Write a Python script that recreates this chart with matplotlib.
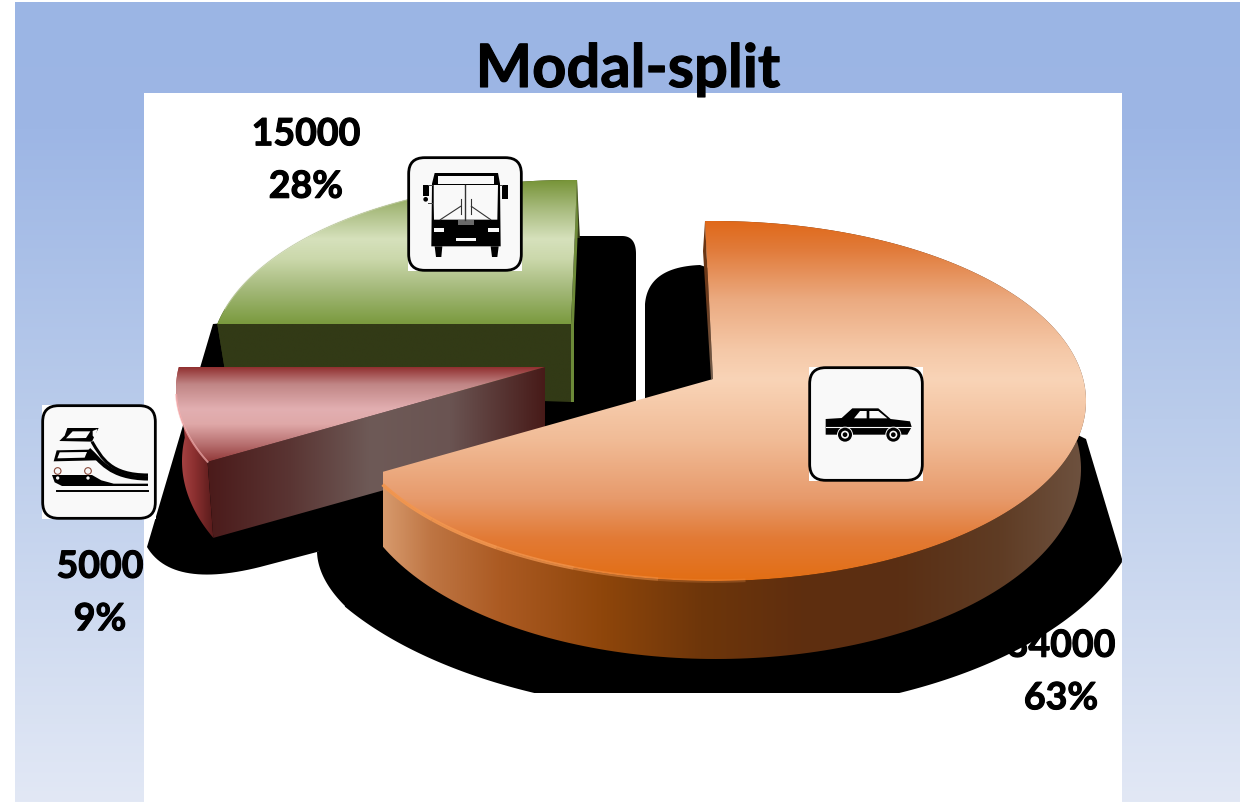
import numpy as np
import matplotlib
matplotlib.use('Agg')
import matplotlib.pyplot as plt
import matplotlib.patheffects as pe
from matplotlib.colors import to_rgb
from matplotlib.patches import Polygon, Rectangle, FancyBboxPatch, Circle, PathPatch
from matplotlib.path import Path
from matplotlib.transforms import Affine2D

plt.rcParams['font.family'] = ['Lato', 'DejaVu Sans']

title = 'Modal-split'
modes = ['Car', 'Train', 'Bus']
values = [34000, 5000, 15000]

# where the slice edges end up on screen, clockwise from straight up (degrees)
edge_screen_angles = [-2.9, 254.3, 270, 362.4]

# one entry per slice: apex, ellipse centre drop below apex, half axes
apexes = [(713, 380), (545, 368), (571, 325)]
drops = [22, 22, 36]
half_a = [373, 369, 361]
half_b = [180, 180, 180]
corner_trim = [3.5, 0, 0]
depths = [68, 72, 68]
low_shrink = [8, 3, 8]
label_pos = [(1061, 673), (100, 594), (306, 161.5)]

top_stops = [
    [(222, '#e0691a'), (250, '#e17b3a'), (300, '#ebaa80'), (350, '#f5c8a7'), (380, '#f9d4b7'),
     (440, '#f1bc97'), (500, '#e79a6b'), (540, '#e27a35'), (582, '#e36e14')],
    [(367, '#8e2b2b'), (385, '#c08585'), (410, '#e2afb1'), (425, '#dfa8a8'), (445, '#b87070'), (462, '#923a3a')],
    [(181, '#779438'), (210, '#a8bb7e'), (240, '#d6e1bc'), (260, '#cbd8ab'), (290, '#a4b97a'), (325, '#7a9a3e')],
]
side_stops = [
    [(380, '#d89b6e'), (430, '#be7543'), (500, '#ab5a22'), (600, '#8f460b'), (700, '#6e360a'),
     (800, '#5f2e0f'), (900, '#5a2f14'), (1000, '#5f3c24'), (1085, '#6e5240')],
    [(176, '#b04a4a'), (195, '#8a2f2f'), (212, '#5a1c1c')],
    [(200, '#323a16'), (580, '#323a16')],
]
rim_colors = ['#f2964f', '#f7b0b0', '#e3ebcf']

fig = plt.figure(figsize=(12.49, 8.03), dpi=100)
ax = fig.add_axes([0, 0, 1, 1])
ax.set_xlim(0, 1249)
ax.set_ylim(803, 0)
ax.autoscale(False)
ax.axis('off')


def grad_fill(xy, stops, horizontal=False, zorder=3):
    xy = np.array(xy)
    poly = Polygon(xy, closed=True, fc='none', ec='none')
    ax.add_patch(poly)
    x0, y0 = xy.min(axis=0)
    x1, y1 = xy.max(axis=0)
    pos = np.linspace(x0, x1, 300) if horizontal else np.linspace(y0, y1, 300)
    where = [s[0] for s in stops]
    cols = np.array([to_rgb(s[1]) for s in stops])
    rgb = np.stack([np.interp(pos, where, cols[:, i]) for i in range(3)], axis=1)
    img = rgb[None, :, :] if horizontal else rgb[:, None, :]
    im = ax.imshow(img, extent=(x0, x1, y1, y0), aspect='auto', zorder=zorder, interpolation='bilinear')
    im.set_clip_path(poly)


def ellipse_pts(c, a, b, t0, t1, n=200):
    t = np.radians(np.linspace(t0, t1, n))
    return np.column_stack([c[0] + a * np.sin(t), c[1] - b * np.cos(t)])


def ray_to_t(apex, c, a, b, phi):
    # follow the ray out of the apex until it meets the ellipse
    dx, dy = np.sin(np.radians(phi)), -np.cos(np.radians(phi))
    ex, ey = (apex[0] - c[0]) / a, (apex[1] - c[1]) / b
    fx, fy = dx / a, dy / b
    A, B, C = fx**2 + fy**2, 2 * (ex * fx + ey * fy), ex**2 + ey**2 - 1
    s = (-B + np.sqrt(B**2 - 4 * A * C)) / (2 * A)
    return np.degrees(np.arctan2(ex + s * fx, -(ey + s * fy)))


def bez(p0, p1, p2, n=30):
    u = np.linspace(0, 1, n)[:, None]
    return (1 - u)**2 * np.array(p0) + 2 * u * (1 - u) * np.array(p1) + u**2 * np.array(p2)


# slide background and white plot area
grad_fill([(15, 3), (1240, 3), (1240, 803), (15, 803)],
          [(3, '#9bb5e4'), (130, '#9db6e5'), (420, '#bacceb'), (803, '#e2e8f5')], zorder=0)
ax.add_patch(Rectangle((144, 94), 978, 709, fc='white', ec='none', zorder=1))

bolder = [pe.withStroke(linewidth=0.8, foreground='black')]
ax.text(628, 71, title, fontsize=43, fontweight='bold', ha='center', va='center', color='black', zorder=2,
        path_effects=bolder)
total = sum(values)
for v, p in zip(values, label_pos):
    ax.text(p[0], p[1], f'{v}\n{round(v / total * 100)}%', fontsize=27, fontweight='bold', ha='center',
            va='center', linespacing=1.66, color='black', zorder=2, path_effects=bolder)

# black shadow, cut off by the plot area
clip = Rectangle((144, 94), 978, 600, transform=ax.transData)
orange_sh = np.vstack([
    [(645, 400), (645, 305)],
    bez((645, 305), (648, 268), (700, 266)),
    [(800, 300), (1086, 440), (1122, 560)],
    ellipse_pts((720, 490), 425, 225, 109, 180),
    ellipse_pts((720, 490), 440, 225, 180, 238.5),
    bez((345, 607), (318, 580), (317, 553)),
])
red_sh = np.vstack([
    [(213, 325), (147, 548)],
    bez((147, 548), (172, 590), (260, 568)),
    [(317, 553), (545, 492), (636, 440), (636, 255)],
    bez((636, 255), (636, 237), (622, 237)),
    [(577, 237), (500, 300)],
])
for sh in [orange_sh, red_sh]:
    p = Polygon(sh, closed=True, fc='black', ec='none', zorder=3)
    ax.add_patch(p)
    p.set_clip_path(clip)

# slices from the values
edges = np.cumsum([0] + values) / total * 360
apex_depth = 78
order = [2, 1, 0]
for i in order:
    apex, a, b = apexes[i], half_a[i], half_b[i]
    c = (apex[0], apex[1] + drops[i])
    phi0, phi1 = np.interp(edges[i:i + 2], edges, edge_screen_angles)
    t0 = ray_to_t(apex, c, a, b, phi0)
    t1 = ray_to_t(apex, c, a, b, phi1)
    t1 = t0 + (t1 - t0) % 360
    z = 4 + 2 * (2 - i) if i != 0 else 10
    t1_top = t1 - corner_trim[i]
    top = ellipse_pts(c, a, b, t0, t1_top)
    c2 = (c[0] + 3, c[1] + depths[i])
    low = ellipse_pts(c2, a - low_shrink[i], b + 10, t0, t1)
    apex2 = (apex[0], apex[1] + apex_depth)

    # outer wall
    grad_fill(np.vstack([top, low[::-1]]), side_stops[i], horizontal=True, zorder=z)
    # the cut face that turns towards the viewer
    if i == 1:
        grad_fill([apex, top[0], low[0], apex2],
                  [(203, '#4a1919'), (290, '#5a3533'), (370, '#6e5a57'), (450, '#6a5452'), (545, '#471a18')],
                  horizontal=True, zorder=z + 0.1)
    if i == 2:
        grad_fill([apex, top[0], low[0], apex2], [(200, '#323a16'), (580, '#323a16')], horizontal=True, zorder=z + 0.1)
        sliver = [top[-1], (top[-1][0] + 1, top[-1][1] + 45), (apex[0] + 3, apex[1]), (apex[0] + 3, apex2[1]), apex2, apex]
        grad_fill(sliver, [(181, '#6f8b3a'), (403, '#6c8a38')], zorder=z + 0.1)
    if i == 0:
        sliver = [top[0], (top[0][0] - 2, top[0][1] + 30), (apex[0] - 2, apex[1]), apex]
        grad_fill(sliver, [(222, '#6b3410'), (300, '#6b3a1c'), (380, '#75604f')], zorder=z + 0.1)
    # top face, with the sharp outer corner taken off where it is trimmed
    face = [[apex], top]
    if corner_trim[i]:
        s = (apex[0] - top[-1][0]) / -np.sin(np.radians(phi1))
        face.append([(top[-1][0], apex[1] - s * np.cos(np.radians(phi1)))])
    grad_fill(np.vstack(face), top_stops[i], zorder=z + 0.2)
    # soft bevel along the rim
    if i == 0:
        marks = np.linspace(t1_top, 175, 6)
        for k, alpha in enumerate([0.95, 0.9, 0.75, 0.5, 0.25]):
            ax.plot(*ellipse_pts(c, a, b, marks[k], marks[k + 1], 40).T, color=rim_colors[0], lw=2.6, alpha=alpha,
                    solid_capstyle='butt', zorder=z + 0.3)
    elif i == 1:
        ax.plot(*ellipse_pts(c, a, b, t0, t0 + 22).T, color=rim_colors[1], lw=1.4, alpha=0.7, zorder=z + 0.3)
    else:
        ax.plot(*ellipse_pts(c, a, b, t0 + 5, t1 - 25).T, color=rim_colors[2], lw=1, alpha=0.5, zorder=z + 0.3)


# road sign icons, drawn at 3x in their own little coordinate system
def icon(x, y):
    tr = Affine2D().scale(1 / 3).translate(x, y) + ax.transData
    ax.add_patch(Rectangle((0, 0), 342, 342, fc='white', ec='none', transform=tr, zorder=20))
    ax.add_patch(FancyBboxPatch((32, 32), 278, 278, boxstyle='round,pad=30,rounding_size=48', fc='#f9f9f9', ec='black',
                                lw=2, transform=tr, zorder=20.1))
    return tr


def shape(tr, pts, fc='black', ec='none', lw=0, z=20.2):
    ax.add_patch(Polygon(pts, closed=True, fc=fc, ec=ec, lw=lw, transform=tr, zorder=z))


def curve(tr, pts, lw, color='black'):
    codes = [Path.MOVETO, Path.CURVE4, Path.CURVE4, Path.CURVE4]
    ax.add_patch(PathPatch(Path(pts, codes), fc='none', ec=color, lw=lw, transform=tr, zorder=20.2))


# car
tr = icon(809, 368)
shape(tr, [(50, 156), (98, 153), (130, 124), (208, 124), (245, 156), (303, 163), (308, 180), (295, 203), (50, 203)])
shape(tr, [(135, 154), (153, 132), (173, 132), (173, 154)], fc='#f9f9f9', z=20.3)
shape(tr, [(181, 132), (208, 132), (235, 154), (181, 154)], fc='#f9f9f9', z=20.3)
ax.plot([50, 306], [180, 180], color='#f9f9f9', lw=0.8, transform=tr, zorder=20.3)
for wx in [108, 253]:
    ax.add_patch(Circle((wx, 203), 24, fc='#f9f9f9', ec='none', transform=tr, zorder=20.4))
    ax.add_patch(Circle((wx, 203), 21, fc='black', ec='none', transform=tr, zorder=20.5))
    ax.add_patch(Circle((wx, 203), 12, fc='#f9f9f9', ec='none', transform=tr, zorder=20.6))
    ax.add_patch(Circle((wx, 203), 7, fc='black', ec='none', transform=tr, zorder=20.7))

# bus
tr = icon(408, 158)
shape(tr, [(80, 48), (270, 48), (276, 80), (278, 268), (70, 268), (72, 80)])
shape(tr, [(80, 268), (103, 268), (100, 300), (84, 300)])
shape(tr, [(248, 268), (272, 268), (268, 300), (252, 300)])
shape(tr, [(90, 56), (258, 56), (258, 82), (90, 82)], fc='#f9f9f9', z=20.3)
shape(tr, [(76, 84), (270, 84), (268, 188), (78, 188)], fc='#f9f9f9', z=20.3)
ax.plot([172, 172], [84, 188], color='#333333', lw=1, transform=tr, zorder=20.4)
for seg in [([97, 158], [188, 148]), ([248, 190], [188, 148]), ([158, 158], [125, 170]), ([190, 190], [125, 170])]:
    ax.plot(seg[0], seg[1], color='#333333', lw=0.8, transform=tr, zorder=20.4)
shape(tr, [(78, 214), (108, 214), (108, 224), (78, 224)], fc='#f9f9f9', z=20.3)
shape(tr, [(240, 214), (272, 214), (272, 224), (240, 224)], fc='#f9f9f9', z=20.3)
shape(tr, [(143, 244), (205, 244), (205, 253), (143, 253)], fc='#f9f9f9', z=20.3)
shape(tr, [(150, 190), (198, 190), (198, 205), (150, 205)], fc='#6a6a6a', z=20.3)
shape(tr, [(45, 85), (62, 85), (62, 118), (45, 118)])
shape(tr, [(283, 84), (300, 84), (300, 126), (283, 126)])
ax.add_patch(Circle((53, 127), 7, fc='black', ec='none', transform=tr, zorder=20.3))
ax.plot([60, 74, 74, 60], [84, 84, 138, 138], color='#444444', lw=0.7, transform=tr, zorder=20.3)
ax.plot([276, 283], [84, 84], color='#444444', lw=0.7, transform=tr, zorder=20.3)

# train
tr = icon(42, 406)
shape(tr, [(76, 69), (170, 69), (160, 88), (150, 110), (52, 108), (68, 92)])
shape(tr, [(92, 79), (145, 79), (132, 99), (72, 100)], fc='#f9f9f9', z=20.3)
shape(tr, [(152, 78), (166, 72), (160, 102), (152, 92)], fc='#f9f9f9', z=20.3)
shape(tr, [(44, 136), (140, 134), (165, 166), (35, 169)])
shape(tr, [(53, 142), (135, 141), (128, 158), (46, 160)], fc='#f9f9f9', z=20.3)
curve(tr, [(150, 110), (180, 160), (205, 210), (318, 210)], 2.2)
curve(tr, [(140, 134), (175, 165), (200, 219), (318, 220)], 3.2)
shape(tr, [(30, 210), (150, 210), (178, 226), (215, 236), (318, 236), (318, 243), (60, 243), (38, 232)])
ax.plot([44, 318], [259, 259], color='black', lw=1.4, transform=tr, zorder=20.2)
for wx in [47, 138]:
    ax.add_patch(Circle((wx, 198), 10, fc='#f9f9f9', ec='#8a4a3a', lw=0.8, transform=tr, zorder=20.3))
    ax.add_patch(Circle((wx, 219), 5, fc='#f9f9f9', ec='none', transform=tr, zorder=20.3))

fig.savefig('out.png', dpi=100)
